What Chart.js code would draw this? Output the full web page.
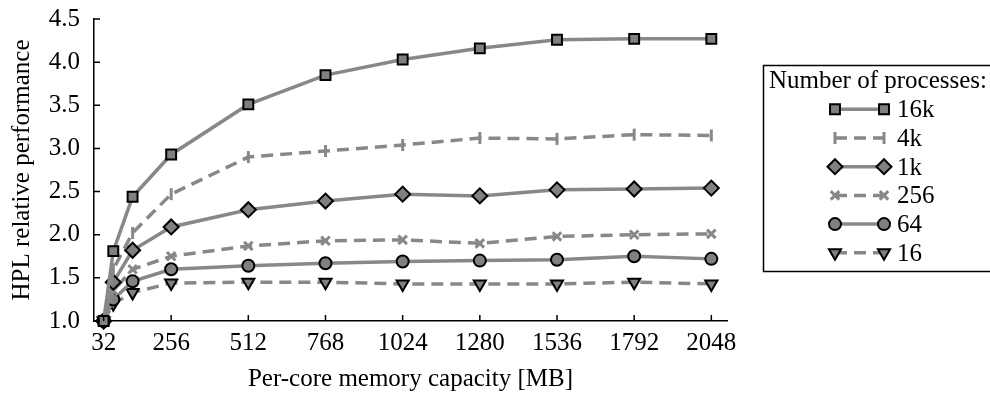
<!DOCTYPE html>
<html>
<head>
<meta charset="utf-8">
<script src="https://cdn.jsdelivr.net/npm/chart.js@4/dist/chart.umd.min.js"></script>
<style>
html,body{margin:0;padding:0;background:#fff;overflow:hidden;}
#wrap{width:990px;height:394px;position:relative;}
</style>
</head>
<body>
<div id="wrap"><canvas id="c" width="990" height="394"></canvas></div>
<script>
const memSizes = [32, 64, 128, 256, 512, 768, 1024, 1280, 1536, 1792, 2048];
const tickValues = [32, 256, 512, 768, 1024, 1280, 1536, 1792, 2048];
const seriesNames = ['16k', '4k', '1k', '256', '64', '16'];
const perf16k = [1.0, 1.81, 2.44, 2.93, 3.51, 3.85, 4.03, 4.16, 4.26, 4.27, 4.27];
const perf4k  = [1.0, 1.60, 2.02, 2.47, 2.90, 2.97, 3.04, 3.12, 3.11, 3.16, 3.15];
const perf1k  = [1.0, 1.45, 1.82, 2.09, 2.29, 2.39, 2.47, 2.45, 2.52, 2.53, 2.54];
const perf256 = [1.0, 1.35, 1.60, 1.75, 1.87, 1.93, 1.94, 1.90, 1.98, 2.00, 2.01];
const perf64  = [1.0, 1.25, 1.46, 1.60, 1.64, 1.67, 1.69, 1.70, 1.71, 1.75, 1.72];
const perf16  = [1.0, 1.20, 1.33, 1.44, 1.45, 1.45, 1.43, 1.43, 1.43, 1.45, 1.43];
const yTicks = [1.0, 1.5, 2.0, 2.5, 3.0, 3.5, 4.0, 4.5];

const LINE = '#888888';
const FILL = '#808080';
const FONT = 'Liberation Serif';
const FS = 25;

function pts(arr){ return arr.map((v,i)=>({x:memSizes[i], y:v})); }

const styles = [
  {data:perf16k, dash:[], pointStyle:'rect', r:7, bg:FILL, bc:'#000', bw:2, rot:0},
  {data:perf4k, dash:[12,7], pointStyle:'line', r:6, bg:LINE, bc:LINE, bw:3, rot:90},
  {data:perf1k, dash:[], pointStyle:'rectRot', r:7.5, bg:FILL, bc:'#000', bw:2, rot:0},
  {data:perf256, dash:[12,7], pointStyle:'crossRot', r:6, bg:LINE, bc:LINE, bw:3, rot:0},
  {data:perf64, dash:[], pointStyle:'circle', r:6, bg:FILL, bc:'#000', bw:2, rot:0},
  {data:perf16, dash:[12,7], pointStyle:'triangle', r:7, bg:FILL, bc:'#000', bw:2, rot:180},
];

const datasets = styles.map((s,i)=>({
  label: seriesNames[i],
  data: pts(s.data),
  borderColor: LINE,
  borderWidth: 3.5,
  borderDash: s.dash,
  fill: false,
  tension: 0,
  clip: false,
  pointStyle: s.pointStyle,
  pointRadius: s.r,
  pointRotation: s.rot,
  pointBackgroundColor: s.bg,
  pointBorderColor: s.bc,
  pointBorderWidth: s.bw,
}));

const tickPlugin = {
  id:'innerTicks',
  afterDatasetsDraw(chart){
    const ctx = chart.ctx, xs = chart.scales.x, ys = chart.scales.y;
    const x0 = xs.left, y0 = ys.bottom;
    ctx.save();
    ctx.strokeStyle = '#000'; ctx.lineWidth = 1.5;
    ctx.beginPath();
    yTicks.forEach(v=>{ const y = ys.getPixelForValue(v); ctx.moveTo(x0, y); ctx.lineTo(x0+6, y); });
    tickValues.forEach(v=>{ const x = xs.getPixelForValue(v); ctx.moveTo(x, y0); ctx.lineTo(x, y0-6); });
    ctx.stroke();
    ctx.restore();
  }
};

const legendPlugin = {
  id:'customLegend',
  afterDraw(chart){
    const ctx = chart.ctx;
    ctx.save();
    ctx.strokeStyle = '#000'; ctx.lineWidth = 1.5;
    ctx.strokeRect(763.5, 65.5, 260, 206);
    ctx.fillStyle = '#000';
    ctx.font = FS + 'px "' + FONT + '"';
    ctx.textBaseline = 'alphabetic';
    ctx.textAlign = 'left';
    ctx.fillText('Number of processes:', 769, 88);
    chart.data.datasets.forEach((ds,i)=>{
      const y = 109.3 + i*28.7;
      const xa = 835, xb = 884;
      ctx.save();
      ctx.strokeStyle = ds.borderColor; ctx.lineWidth = ds.borderWidth;
      ctx.setLineDash(ds.borderDash);
      ctx.beginPath(); ctx.moveTo(xa, y); ctx.lineTo(xb, y); ctx.stroke();
      ctx.restore();
      [xa, xb].forEach(x=>{
        ctx.save();
        ctx.fillStyle = ds.pointBackgroundColor;
        ctx.strokeStyle = ds.pointBorderColor;
        ctx.lineWidth = ds.pointBorderWidth;
        Chart.helpers.drawPoint(ctx, {pointStyle: ds.pointStyle, rotation: ds.pointRotation, radius: ds.pointRadius, borderWidth: ds.pointBorderWidth}, x, y);
        ctx.restore();
      });
      ctx.fillStyle = '#000';
      ctx.fillText(ds.label, 897, y + 8);
    });
    ctx.restore();
  }
};

new Chart(document.getElementById('c'), {
  type:'line',
  data:{ datasets },
  plugins:[tickPlugin, legendPlugin],
  options:{
    responsive:false,
    animation:false,
    events:[],
    layout:{ padding:{ left:0, top:19, right:263, bottom:0 } },
    plugins:{ legend:{display:false}, tooltip:{enabled:false} },
    scales:{
      x:{
        type:'linear', min:0, max:2100,
        afterBuildTicks(scale){ scale.ticks = tickValues.map(v=>({value:v})); },
        afterFit(scale){ scale.height = 73; scale.paddingLeft = 0; scale.paddingRight = 0; },
        grid:{ display:false, drawTicks:false },
        border:{ display:true, color:'#000', width:1.5 },
        ticks:{ color:'#000', padding:7, maxRotation:0, autoSkip:false, font:{family:FONT, size:FS},
          callback:(v)=>String(v) },
        title:{ display:true, text:'Per-core memory capacity [MB]', color:'#000', font:{family:FONT, size:FS}, padding:{top:0,bottom:0} }
      },
      y:{
        type:'linear', min:1, max:4.5,
        afterBuildTicks(scale){ scale.ticks = yTicks.map(v=>({value:v})); },
        afterFit(scale){ scale.width = 94; scale.paddingTop = 0; scale.paddingBottom = 0; },
        grid:{ display:false, drawTicks:false },
        border:{ display:true, color:'#000', width:1.5 },
        ticks:{ color:'#000', padding:14, font:{family:FONT, size:FS}, callback:(v)=>Number(v).toFixed(1) },
        title:{ display:true, text:'HPL relative performance', color:'#000', font:{family:FONT, size:FS}, padding:{top:7,bottom:0} }
      }
    }
  }
});
</script>
</body>
</html>
